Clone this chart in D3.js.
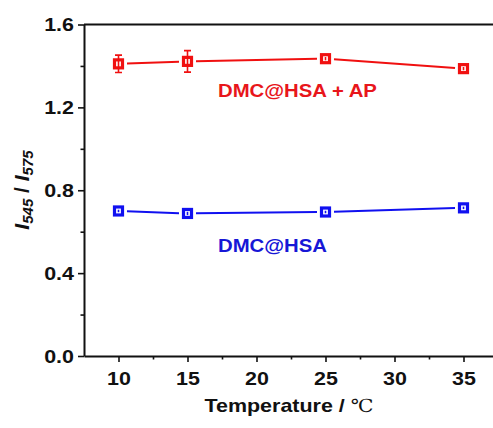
<!DOCTYPE html>
<html>
<head>
<meta charset="utf-8">
<script src="https://cdn.jsdelivr.net/npm/d3@7"></script>
<style>
  html, body { margin: 0; padding: 0; background: #fff; }
  svg { display: block; }
  text { font-family: "Liberation Sans", Arial, sans-serif; font-weight: bold; }
</style>
</head>
<body>
<svg id="chart" width="493" height="428"></svg>
<script>
// Temperatures (°C) and the I545/I575 ratio for each probe
const temperatures = [10, 15, 25, 35];
const apValues = [1.410, 1.422, 1.435, 1.387];
const apErrors = [0.042, 0.052, 0.008, 0.008];
const hsaValues = [0.700, 0.688, 0.695, 0.715];
const hsaErrors = [0.006, 0.008, 0.006, 0.006];
const xTicks = [10, 15, 20, 25, 30, 35];
const xMinorTicks = [12.5, 17.5, 22.5, 27.5, 32.5];
const yTicks = [0.0, 0.4, 0.8, 1.2, 1.6];
const yMinorTicks = [0.2, 0.6, 1.0, 1.4];
const seriesNames = ["DMC@HSA + AP", "DMC@HSA"];

const W = 493, H = 428;
const svg = d3.select("#chart");
const stretch = 1.13; // horizontal widening of the type

const x = d3.scaleLinear().domain([7.5, 37.5]).range([84, 498]);
const y = d3.scaleLinear().domain([0, 1.6]).range([356, 24.5]);

// widen a text element horizontally about its own x anchor
function widen(sel) {
  sel.each(function () {
    const t = d3.select(this);
    const tx = +t.attr("x") || 0;
    t.attr("transform", `translate(${tx * (1 - stretch)},0) scale(${stretch},1)`);
  });
}

// frame line along the top (right side runs off the canvas)
svg.append("line").attr("x1", x.range()[0]).attr("x2", W).attr("y1", y(1.6)).attr("y2", y(1.6))
  .attr("stroke", "#111").attr("stroke-width", 2);

// bottom axis
const gx = svg.append("g").attr("transform", `translate(0,${y(0)})`);
gx.call(d3.axisBottom(x).tickValues(xTicks).tickFormat(d3.format("d")).tickSize(6).tickSizeOuter(0).tickPadding(10));
gx.select(".domain").attr("stroke", "#111").attr("stroke-width", 2);
gx.selectAll(".tick line").attr("stroke", "#111").attr("stroke-width", 1.6);
gx.selectAll(".tick text").attr("font-size", 19).attr("fill", "#111")
  .style("font-family", "'Liberation Sans', Arial, sans-serif").style("font-weight", "bold").call(widen);
const gxm = svg.append("g").attr("transform", `translate(0,${y(0)})`);
gxm.call(d3.axisBottom(x).tickValues(xMinorTicks).tickFormat("").tickSize(3.5).tickSizeOuter(0));
gxm.select(".domain").remove();
gxm.selectAll(".tick line").attr("stroke", "#111").attr("stroke-width", 1.6);

// left axis
const gy = svg.append("g").attr("transform", `translate(${x(7.5)},0)`);
gy.call(d3.axisLeft(y).tickValues(yTicks).tickFormat(d3.format(".1f")).tickSize(6).tickSizeOuter(0).tickPadding(4));
gy.select(".domain").attr("stroke", "#111").attr("stroke-width", 2);
gy.selectAll(".tick line").attr("stroke", "#111").attr("stroke-width", 1.6);
gy.selectAll(".tick text").attr("font-size", 19).attr("fill", "#111")
  .style("font-family", "'Liberation Sans', Arial, sans-serif").style("font-weight", "bold").call(widen);
const gym = svg.append("g").attr("transform", `translate(${x(7.5)},0)`);
gym.call(d3.axisLeft(y).tickValues(yMinorTicks).tickFormat("").tickSize(3.5).tickSizeOuter(0));
gym.select(".domain").remove();
gym.selectAll(".tick line").attr("stroke", "#111").attr("stroke-width", 1.6);

// axis titles
const xt = svg.append("text").attr("x", 289).attr("y", 412).attr("text-anchor", "middle")
  .attr("font-size", 19).attr("fill", "#111");
xt.append("tspan").text("Temperature / ");
xt.append("tspan").style("font-family", "'DejaVu Serif', serif")
  .style("font-weight", "normal").attr("font-size", 18).text("\u2103");
widen(xt);

const yt = svg.append("text").attr("transform", "translate(29,190) rotate(-90)")
  .attr("text-anchor", "middle").attr("font-size", 21).attr("fill", "#111");
yt.append("tspan").attr("font-style", "italic").text("I");
yt.append("tspan").attr("font-style", "italic").attr("font-size", 15).attr("dy", 4).text("545");
yt.append("tspan").attr("dy", -4).text(" / ");
yt.append("tspan").attr("font-style", "italic").text("I");
yt.append("tspan").attr("font-style", "italic").attr("font-size", 15).attr("dy", 4).text("575");

// series
const series = [
  { name: seriesNames[0], values: apValues, errors: apErrors, color: "#f01010", text: "#e8161b", lx: 218, ly: 97 },
  { name: seriesNames[1], values: hsaValues, errors: hsaErrors, color: "#1010f0", text: "#1717d6", lx: 218, ly: 252 }
];

const half = 5.5, gap = 3;
series.forEach(s => {
  const pts = temperatures.map((t, i) => ({ px: x(t), py: y(s.values[i]), v: s.values[i], e: s.errors[i] }));
  const g = svg.append("g");
  // connecting segments, stopping short of the markers
  d3.pairs(pts).forEach(([a, b]) => {
    const dx = b.px - a.px, dy = b.py - a.py, len = Math.hypot(dx, dy);
    const k = (half + gap) / len;
    g.append("line")
      .attr("x1", a.px + dx * k).attr("y1", a.py + dy * k)
      .attr("x2", b.px - dx * k).attr("y2", b.py - dy * k)
      .attr("stroke", s.color).attr("stroke-width", 2);
  });
  // open square markers
  g.selectAll("rect.m").data(pts).join("rect").attr("class", "m")
    .attr("x", d => d.px - 4).attr("y", d => d.py - 4)
    .attr("width", 8).attr("height", 8)
    .attr("fill", "#fff").attr("stroke", s.color).attr("stroke-width", 3.2);
  // error bars
  g.selectAll("line.e").data(pts).join("line").attr("class", "e")
    .attr("x1", d => d.px).attr("x2", d => d.px)
    .attr("y1", d => y(d.v + d.e)).attr("y2", d => y(d.v - d.e))
    .attr("stroke", s.color).attr("stroke-width", 1.6);
  g.selectAll("path.cap").data(pts.filter(d => y(d.v - d.e) - y(d.v + d.e) > 12)).join("path").attr("class", "cap")
    .attr("d", d => `M${d.px - 3.5},${y(d.v + d.e)}H${d.px + 3.5}M${d.px - 3.5},${y(d.v - d.e)}H${d.px + 3.5}`)
    .attr("stroke", s.color).attr("stroke-width", 1.6);
  // series label
  svg.append("text").attr("x", s.lx).attr("y", s.ly).attr("font-size", 18)
    .attr("fill", s.text).text(s.name).call(widen);
});
</script>
</body>
</html>
